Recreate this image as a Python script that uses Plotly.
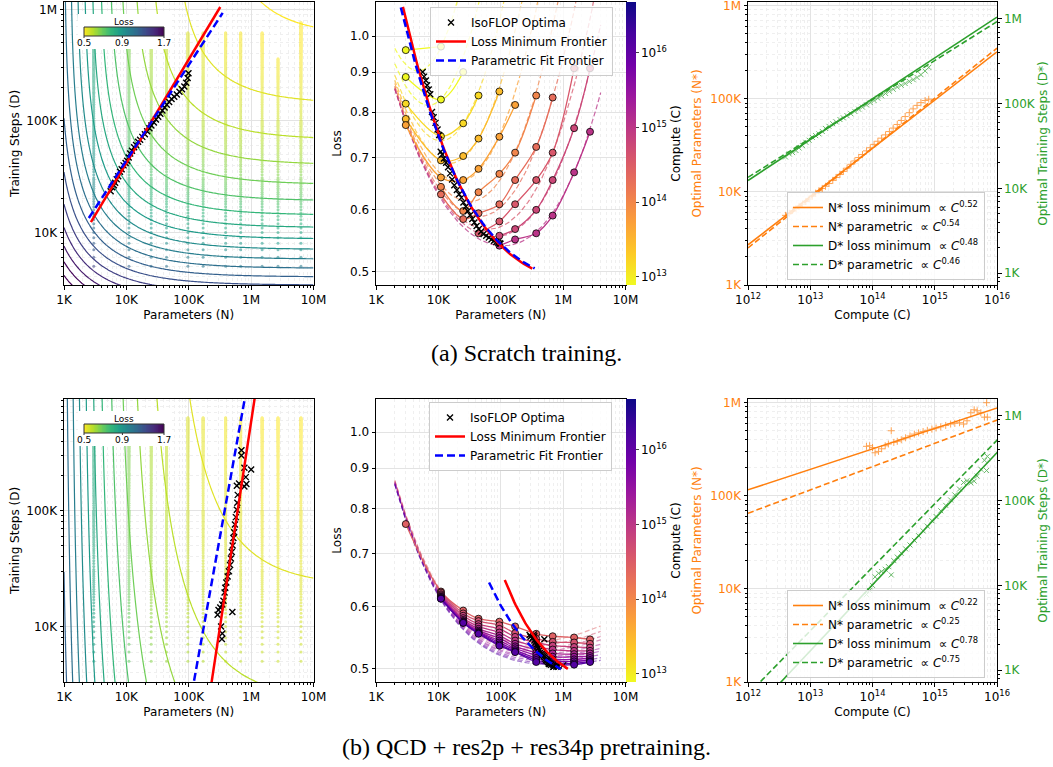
import numpy as np
import plotly.graph_objects as go
from plotly.colors import sequential

W, H = 1053, 767
FONT = "DejaVu Sans"
ORANGE = "#ff7f0e"
GREEN = "#2ca02c"

# ---------------- fitted parametric loss  L = E + A/N^alpha + B/D^beta ----------------
FIT_SCRATCH = {"E": 0.47, "A": 31.5, "alpha": 0.58, "B": 181.0, "beta": 0.68}
FIT_PRETRAIN = {"E": 0.465, "A": 42.7, "alpha": 0.62, "B": 0.49, "beta": 0.207}
K_COMPUTE = 3.0e4  # C = k * N * D

# ---------------- training runs (left panels) ----------------
MODEL_N = [3.0e3, 1.1e4, 2.5e4, 4.4e4, 9.7e4, 1.7e5, 3.9e5, 6.8e5, 1.5e6, 2.7e6, 6.3e6]
MAX_STEPS_SCRATCH = [6.2e5, 6.2e5, 6.2e5, 6.2e5, 6.2e5, 6.2e5, 6.2e5, 6.2e5, 6.2e5, 3.65e5, 7.65e5]
MAX_STEPS_PRETRAIN = [6.4e5, 6.4e5, 6.4e5, 6.4e5, 6.4e5, 6.4e5, 6.4e5, 6.4e5, 6.4e5, 6.4e5, 6.4e5]
CKPT_FIRST = 5000
CKPT_SCHEDULE = [(30000, 1000), (100000, 2000), (1000000, 5000)]  # (up to step, every)

# ---------------- IsoFLOP profiles (middle panels) ----------------
ISO_SCRATCH_LOGC = [12.5, 12.81, 13.18, 13.45, 13.7, 14.02, 14.3, 14.58, 14.77, 15.03]
ISO_SCRATCH_N = [
    [3e3, 1.1e4],
    [3e3, 1.1e4, 2.5e4],
    [3e3, 1.1e4, 2.5e4, 4.4e4],
    [3e3, 1.1e4, 2.5e4, 4.4e4, 9.5e4],
    [3e3, 1.1e4, 2.5e4, 4.4e4, 9.5e4, 1.7e5],
    [1.1e4, 2.5e4, 4.4e4, 9.5e4, 1.7e5, 3.7e5],
    [1.1e4, 2.5e4, 4.4e4, 9.5e4, 1.7e5, 3.7e5, 6.8e5],
    [4.4e4, 9.5e4, 1.7e5, 3.7e5, 6.8e5, 1.5e6],
    [9.5e4, 1.7e5, 3.7e5, 6.8e5, 1.5e6, 2.7e6],
    [9.5e4, 1.7e5, 3.7e5, 6.8e5, 1.5e6, 2.7e6],
]
ISO_SCRATCH_L = [
    [0.96, 0.97],
    [0.887, 0.83, 0.90],
    [0.82, 0.745, 0.774, 0.84],
    [0.784, 0.694, 0.703, 0.74, 0.85],
    [0.77, 0.66, 0.655, 0.677, 0.744, 0.817],
    [0.642, 0.598, 0.632, 0.667, 0.71, 0.84],
    [0.628, 0.584, 0.594, 0.61, 0.655, 0.722, 0.835],
    [0.56, 0.58, 0.61, 0.655, 0.71, 0.91],
    [0.556, 0.567, 0.60, 0.655, 0.763, 0.91],
    [0.54, 0.55, 0.56, 0.59, 0.67, 0.755],
]

ISO_PRE_LOGC = [14.45, 14.65, 14.85, 15.0, 15.2, 15.4, 15.55, 15.75, 15.95, 16.13]
ISO_PRE_N_FIRST = [3e3, 1.1e4, 2.5e4, 4.4e4, 9.5e4, 1.7e5, 3.7e5, 6.8e5, 1.5e6, 2.7e6]
ISO_PRE_N_REST = [1.1e4, 2.5e4, 4.4e4, 9.5e4, 1.7e5, 3.7e5, 6.8e5, 1.5e6, 2.7e6]
ISO_PRE_L = [
    [0.764, 0.627, 0.593, 0.579, 0.574, 0.566, 0.554, 0.550, 0.548, 0.545],
    [0.625, 0.588, 0.575, 0.568, 0.555, 0.546, 0.541, 0.540, 0.538],
    [0.622, 0.584, 0.570, 0.562, 0.549, 0.540, 0.535, 0.533, 0.532],
    [0.620, 0.580, 0.566, 0.556, 0.543, 0.534, 0.529, 0.527, 0.527],
    [0.618, 0.577, 0.562, 0.551, 0.538, 0.529, 0.523, 0.522, 0.523],
    [0.617, 0.575, 0.559, 0.547, 0.534, 0.524, 0.518, 0.518, 0.519],
    [0.616, 0.574, 0.557, 0.543, 0.531, 0.520, 0.514, 0.514, 0.516],
    [0.615, 0.573, 0.556, 0.540, 0.528, 0.516, 0.511, 0.511, 0.513],
    [0.614, 0.572, 0.555, 0.537, 0.526, 0.513, 0.508, 0.508, 0.511],
    [0.614, 0.572, 0.554, 0.535, 0.525, 0.510, 0.506, 0.506, 0.510],
]

# ---------------- IsoFLOP optima ----------------
OPT_SCRATCH_C = [4.0e12, 4.6e12, 5.2e12, 5.9e12, 6.6e12, 7.5e12, 8.5e12, 9.6e12, 1.08e13, 1.22e13,
                 1.38e13, 1.56e13, 1.76e13, 2.0e13, 2.3e13, 2.6e13, 3.0e13, 3.4e13, 3.9e13, 4.5e13,
                 5.2e13, 6.0e13, 6.9e13, 8.0e13, 9.2e13, 1.06e14, 1.22e14, 1.4e14, 1.62e14, 1.87e14,
                 2.15e14, 2.5e14, 2.9e14, 3.35e14, 3.9e14, 4.5e14, 5.2e14, 6.0e14, 7.0e14, 8.0e14]
OPT_SCRATCH_N = [5.6e3, 5.9e3, 6.3e3, 6.6e3, 7.0e3, 7.4e3, 7.9e3, 8.4e3, 9.0e3, 9.7e3,
                 10.3e3, 10.9e3, 11.5e3, 12.3e3, 13.3e3, 14.3e3, 15.4e3, 16.6e3, 18.0e3, 19.8e3,
                 21.5e3, 23.4e3, 25.2e3, 27.6e3, 29.8e3, 32.4e3, 35.0e3, 37.8e3, 41.0e3, 44.5e3,
                 48.5e3, 53e3, 58.5e3, 64.5e3, 71e3, 78e3, 85e3, 91e3, 96e3, 99e3]
OPT_SCRATCH_D = [23.5e3, 25.5e3, 26.5e3, 28e3, 30e3, 32e3, 35e3, 37e3, 40e3, 42e3,
                 44e3, 47e3, 51e3, 54e3, 58e3, 61e3, 65e3, 68e3, 72e3, 76e3,
                 81e3, 86e3, 91e3, 97e3, 103e3, 109e3, 116e3, 124e3, 132e3, 140e3,
                 148e3, 157e3, 165e3, 173e3, 183e3, 192e3, 204e3, 220e3, 243e3, 268e3]
OPT_SCRATCH_L = [0.90, 0.888, 0.878, 0.866, 0.855, 0.843, 0.80, 0.788, 0.775, 0.76,
                 0.748, 0.712, 0.706, 0.698, 0.689, 0.68, 0.668, 0.656, 0.645, 0.636,
                 0.628, 0.622, 0.613, 0.606, 0.598, 0.591, 0.584, 0.578, 0.572, 0.567,
                 0.563, 0.559, 0.556, 0.553, 0.55, 0.548, 0.546, 0.545, 0.544, 0.543]

OPT_PRE_C = [8.0e13, 9.0e13, 1.0e14, 1.1e14, 1.25e14, 1.4e14, 1.6e14, 1.8e14, 2.0e14, 2.2e14,
             2.5e14, 2.9e14, 3.4e14, 4.0e14, 4.7e14, 5.5e14, 6.5e14, 7.6e14, 9.0e14, 1.05e15,
             1.25e15, 1.5e15, 1.8e15, 2.1e15, 2.5e15, 2.9e15, 3.3e15, 3.8e15, 4.3e15, 4.8e15,
             5.5e15, 6.3e15, 7.0e15, 6.8e15]
OPT_PRE_N = [340e3, 345e3, 330e3, 290e3, 300e3, 320e3, 345e3, 360e3, 500e3, 375e3,
             385e3, 400e3, 420e3, 440e3, 460e3, 475e3, 490e3, 505e3, 520e3, 535e3,
             550e3, 570e3, 590e3, 600e3, 610e3, 590e3, 640e3, 780e3, 840e3, 820e3,
             780e3, 700e3, 700e3, 1.0e6]
OPT_PRE_D = [7.8e3, 8.7e3, 10e3, 12.6e3, 13.9e3, 14.6e3, 15.5e3, 16.7e3, 13.3e3, 19.6e3,
             21.6e3, 24e3, 27e3, 30e3, 34e3, 38.6e3, 44e3, 50e3, 58e3, 65e3,
             76e3, 88e3, 102e3, 117e3, 137e3, 164e3, 172e3, 162e3, 170e3, 195e3,
             235e3, 300e3, 333e3, 227e3]
OPT_PRE_L = [0.553, 0.55, 0.548, 0.552, 0.549, 0.546, 0.543, 0.54, 0.545, 0.537,
             0.534, 0.531, 0.528, 0.525, 0.523, 0.521, 0.519, 0.517, 0.515, 0.513,
             0.512, 0.51, 0.509, 0.508, 0.507, 0.507, 0.506, 0.505, 0.504, 0.504,
             0.503, 0.503, 0.503, 0.505]

# ---------------- compute-optimal frontiers (power-law end points) ----------------
FRONT_SCRATCH_C = [1e12, 1e16]
FRONT_SCRATCH_NMIN = [2.7e3, 3.2e5]
FRONT_SCRATCH_DMIN = [1.24e4, 1.05e6]
FRONT_SCRATCH_NPAR = [2.5e3, 3.5e5]
FRONT_SCRATCH_DPAR = [1.35e4, 9.3e5]
FRONT_PRE_C = [1e12, 4e16]
FRONT_PRE_NMIN = [1.16e5, 1.19e6]
FRONT_PRE_DMIN = [2.8e2, 1.09e6]
FRONT_PRE_NPAR = [6.5e4, 9.2e5]
FRONT_PRE_DPAR = [5.18e2, 1.46e6]
EXPONENTS_SCRATCH = ["0.52", "0.54", "0.48", "0.46"]
EXPONENTS_PRE = ["0.22", "0.25", "0.78", "0.75"]

LOSS_TICKS = [0.5, 0.9, 1.7]
LOSS_CMIN, LOSS_CMAX = 0.5, 1.7
C_CMIN, C_CMAX = 12.89, 16.68


def loss(fit, n, d):
    return fit["E"] + fit["A"] * np.power(n, -fit["alpha"]) + fit["B"] * np.power(d, -fit["beta"])


def along(c_end, v_end, c):
    return 10 ** np.interp(np.log10(c), np.log10(c_end), np.log10(v_end))


def checkpoints(dmax):
    out, s = [], float(CKPT_FIRST)
    for lim, step in CKPT_SCHEDULE:
        while s <= min(lim, dmax):
            out.append(s)
            s += step
    return np.array(out)


def plasma_r(t):
    t = min(max(t, 0.0), 1.0)
    cols = sequential.Plasma_r
    rgb = np.array([[int(h[i:i + 2], 16) for i in (1, 3, 5)] for h in cols], float)
    pos = np.linspace(0, 1, len(cols))
    r = [np.interp(t, pos, rgb[:, k]) for k in range(3)]
    return "rgb(%d,%d,%d)" % tuple(int(round(v)) for v in r)


LNMIN, LNMAX = float(np.log(LOSS_CMIN)), float(np.log(LOSS_CMAX))

fig = go.Figure()

rows = [
    dict(fit=FIT_SCRATCH, maxs=MAX_STEPS_SCRATCH, ax=("x", "y"), axm=("x2", "y2"), axr=("x3", "y3", "y4"),
         axi=("x9", "y9"), cam="coloraxis3", leg_m="legend", leg_r="legend3", dash_op=0.75,
         iso_c=ISO_SCRATCH_LOGC, iso_n=ISO_SCRATCH_N, iso_l=ISO_SCRATCH_L,
         oc=OPT_SCRATCH_C, on=OPT_SCRATCH_N, od=OPT_SCRATCH_D, ol=OPT_SCRATCH_L,
         fc=FRONT_SCRATCH_C, fnm=FRONT_SCRATCH_NMIN, fdm=FRONT_SCRATCH_DMIN,
         fnp=FRONT_SCRATCH_NPAR, fdp=FRONT_SCRATCH_DPAR, ex=EXPONENTS_SCRATCH),
    dict(fit=FIT_PRETRAIN, maxs=MAX_STEPS_PRETRAIN, ax=("x5", "y5"), axm=("x6", "y6"), axr=("x7", "y7", "y8"),
         axi=("x10", "y10"), cam="coloraxis4", leg_m="legend2", leg_r="legend4", dash_op=0.5,
         iso_c=ISO_PRE_LOGC,
         iso_n=[ISO_PRE_N_FIRST] + [ISO_PRE_N_REST] * (len(ISO_PRE_LOGC) - 1),
         iso_l=ISO_PRE_L,
         oc=OPT_PRE_C, on=OPT_PRE_N, od=OPT_PRE_D, ol=OPT_PRE_L,
         fc=FRONT_PRE_C, fnm=FRONT_PRE_NMIN, fdm=FRONT_PRE_DMIN,
         fnp=FRONT_PRE_NPAR, fdp=FRONT_PRE_DPAR, ex=EXPONENTS_PRE),
]

for R in rows:
    fit = R["fit"]
    xa, ya = R["ax"]
    # ---- left: loss contours ----
    xg = np.logspace(3, 7, 120)
    yg = np.logspace(3.4, 6.3, 120)
    XX, YY = np.meshgrid(xg, yg)
    Z = np.log(loss(fit, XX, YY))
    fig.add_trace(go.Contour(x=xg.tolist(), y=yg.tolist(), z=Z.tolist(), xaxis=xa, yaxis=ya,
                             colorscale="Viridis_r", zmin=LNMIN, zmax=LNMAX, zauto=False, showscale=False,
                             contours=dict(coloring="lines", start=float(np.log(0.492)), end=float(np.log(2.4)),
                                           size=0.068),
                             line=dict(width=1.2), hoverinfo="skip", showlegend=False))
    bx, by, bc = [], [], []
    for n, dmax in zip(MODEL_N, R["maxs"]):
        d = checkpoints(dmax)
        bx += [n] * len(d)
        by += d.tolist()
        bc += np.log(loss(fit, n, d)).tolist()
    fig.add_trace(go.Scatter(x=bx, y=by, mode="markers", xaxis=xa, yaxis=ya, opacity=0.55,
                             marker=dict(size=3, color=bc, colorscale="Viridis_r", cmin=LNMIN, cmax=LNMAX,
                                         showscale=False),
                             hoverinfo="skip", showlegend=False))
    fig.add_trace(go.Scatter(x=R["on"], y=R["od"], mode="markers", xaxis=xa, yaxis=ya,
                             marker=dict(symbol="x-thin", size=6, line=dict(width=1.4, color="black")),
                             showlegend=False))
    fig.add_trace(go.Scatter(x=R["fnm"], y=R["fdm"], mode="lines", xaxis=xa, yaxis=ya,
                             line=dict(color="red", width=2.5), showlegend=False))
    fig.add_trace(go.Scatter(x=R["fnp"], y=R["fdp"], mode="lines", xaxis=xa, yaxis=ya,
                             line=dict(color="blue", width=2.5, dash="8px,4px"), showlegend=False))

    # ---- inset loss colour bar ----
    xi, yi = R["axi"]
    edges = np.linspace(LNMIN, LNMAX, 101)
    centers = (edges[:-1] + edges[1:]) / 2
    fig.add_trace(go.Heatmap(x=edges.tolist(), y=[36, 27], z=[centers.tolist()], xaxis=xi, yaxis=yi,
                             colorscale="Viridis_r", zmin=LNMIN, zmax=LNMAX, showscale=False,
                             hoverinfo="skip"))

    # ---- middle: IsoFLOP profiles ----
    xm, ym = R["axm"]
    nline = np.logspace(np.log10(2e3), np.log10(4e6), 80)
    for lc in R["iso_c"]:
        col = plasma_r((lc - C_CMIN) / (C_CMAX - C_CMIN))
        c = 10 ** lc
        fig.add_trace(go.Scatter(x=nline.tolist(), y=loss(fit, nline, c / (K_COMPUTE * nline)).tolist(),
                                 mode="lines", xaxis=xm, yaxis=ym, opacity=R["dash_op"],
                                 line=dict(color=col, width=1.2, dash="5px,2.5px"), showlegend=False,
                                 hoverinfo="skip"))
    for lc, ns, ls in zip(R["iso_c"], R["iso_n"], R["iso_l"]):
        col = plasma_r((lc - C_CMIN) / (C_CMAX - C_CMIN))
        fig.add_trace(go.Scatter(x=ns, y=ls, mode="lines+markers", xaxis=xm, yaxis=ym,
                                 line=dict(color=col, width=1.3, shape="spline"),
                                 marker=dict(size=7, color=[lc] * len(ns), coloraxis=R["cam"],
                                             line=dict(color="black", width=0.8)),
                                 showlegend=False))
    fig.add_trace(go.Scatter(x=R["on"], y=R["ol"], mode="markers", xaxis=xm, yaxis=ym, name="IsoFLOP Optima",
                             marker=dict(symbol="x-thin", size=6, color="black", line=dict(width=1.4, color="black")),
                             legend=R["leg_m"]))
    cs = np.logspace(np.log10(R["fc"][0]), np.log10(R["fc"][1]), 60)
    n_m, d_m = along(R["fc"], R["fnm"], cs), along(R["fc"], R["fdm"], cs)
    n_p, d_p = along(R["fc"], R["fnp"], cs), along(R["fc"], R["fdp"], cs)
    fig.add_trace(go.Scatter(x=n_m.tolist(), y=loss(fit, n_m, d_m).tolist(), mode="lines", xaxis=xm, yaxis=ym,
                             name="Loss Minimum Frontier", line=dict(color="red", width=2.5), legend=R["leg_m"]))
    fig.add_trace(go.Scatter(x=n_p.tolist(), y=loss(fit, n_p, d_p).tolist(), mode="lines", xaxis=xm, yaxis=ym,
                             name="Parametric Fit Frontier", line=dict(color="blue", width=2.5, dash="8px,4px"),
                             legend=R["leg_m"]))

    # ---- right: scaling laws ----
    xr, yr, yr2 = R["axr"]
    ex = R["ex"]
    fig.add_trace(go.Scatter(x=R["oc"], y=R["on"], mode="markers", xaxis=xr, yaxis=yr, opacity=0.7,
                             marker=dict(symbol="cross-thin", size=5, line=dict(width=1, color=ORANGE)),
                             showlegend=False))
    fig.add_trace(go.Scatter(x=R["oc"], y=R["od"], mode="markers", xaxis=xr, yaxis=yr2, opacity=0.7,
                             marker=dict(symbol="x-thin", size=5, line=dict(width=1, color=GREEN)),
                             showlegend=False))
    fig.add_trace(go.Scatter(x=R["fc"], y=R["fnm"], mode="lines", xaxis=xr, yaxis=yr,
                             name="N* loss minimum  ∝ <i>C</i><sup>%s</sup>" % ex[0],
                             line=dict(color=ORANGE, width=1.6), legend=R["leg_r"]))
    fig.add_trace(go.Scatter(x=R["fc"], y=R["fnp"], mode="lines", xaxis=xr, yaxis=yr,
                             name="N* parametric  ∝ <i>C</i><sup>%s</sup>" % ex[1],
                             line=dict(color=ORANGE, width=1.6, dash="6px,3px"), legend=R["leg_r"]))
    fig.add_trace(go.Scatter(x=R["fc"], y=R["fdm"], mode="lines", xaxis=xr, yaxis=yr2,
                             name="D* loss minimum  ∝ <i>C</i><sup>%s</sup>" % ex[2],
                             line=dict(color=GREEN, width=1.6), legend=R["leg_r"]))
    fig.add_trace(go.Scatter(x=R["fc"], y=R["fdp"], mode="lines", xaxis=xr, yaxis=yr2,
                             name="D* parametric  ∝ <i>C</i><sup>%s</sup>" % ex[3],
                             line=dict(color=GREEN, width=1.6, dash="6px,3px"), legend=R["leg_r"]))

# ---------------- layout ----------------
def px_x(a, b):
    return [a / W, b / W]


def px_y(top, bot):
    return [1 - bot / H, 1 - top / H]


def minor_vals(e0, e1):
    return [m * 10.0 ** e for e in range(e0, e1) for m in range(2, 10)]


def minor(e0, e1, grid=True):
    return dict(tickvals=minor_vals(e0, e1), ticks="outside", ticklen=2, tickcolor="black",
                showgrid=grid, gridcolor="#efefef", griddash="dot")


BASE = dict(showline=True, linecolor="black", linewidth=1, mirror=True, ticks="outside", ticklen=3.5,
            tickcolor="black", showgrid=True, gridcolor="#e3e3e3", zeroline=False, automargin=False,
            ticklabeloverflow="allow", tickfont=dict(size=12, color="black"))


def ax(**kw):
    d = dict(BASE)
    d.update(kw)
    return d


N_TV = [1e3, 1e4, 1e5, 1e6, 1e7]
N_TT = ["1K", "10K", "100K", "1M", "10M"]
C_TV = [1e12, 1e13, 1e14, 1e15, 1e16]
C_TT = ["10<sup>12</sup>", "10<sup>13</sup>", "10<sup>14</sup>", "10<sup>15</sup>", "10<sup>16</sup>"]
S_TV = [1e3, 1e4, 1e5, 1e6]
S_TT = ["1K", "10K", "100K", "1M"]
L_TV = [0.5, 0.6, 0.7, 0.8, 0.9, 1.0]
L_TT = ["0.5", "0.6", "0.7", "0.8", "0.9", "1.0"]

XL, XM, XR = px_x(64, 313.5), px_x(376, 625.5), px_x(748, 997)
ROWS_Y = [px_y(2, 285), px_y(399, 682)]
LEFT_YR = [[3.53, 6.066], [3.52, 5.965]]
MID_YR = [[float(np.log10(0.481)), float(np.log10(1.106))], [float(np.log10(0.481)), float(np.log10(1.102))]]

layout = dict(width=W, height=H, margin=dict(l=0, r=0, t=0, b=0), paper_bgcolor="white",
              plot_bgcolor="white", font=dict(family=FONT, size=12, color="black"), template="none")

shapes, annotations = [], []
ids = [("", "", "2", "2", "3", "3", "4", "9"), ("5", "5", "6", "6", "7", "7", "8", "10")]
inset_top = [0, 397]
for r, (xl, yl, xm, ym, xr, yr, yr2, ii) in enumerate(ids):
    yd = ROWS_Y[r]
    layout["xaxis" + xl] = ax(domain=XL, type="log", range=[3, 7], anchor="y" + yl, tickvals=N_TV, ticktext=N_TT,
                              minor=minor(3, 7),
                              title=dict(text="Parameters (N)", standoff=4, font=dict(size=12)))
    layout["yaxis" + yl] = ax(domain=yd, type="log", range=LEFT_YR[r], anchor="x" + xl, tickvals=S_TV, ticktext=S_TT,
                              minor=minor(3, 7),
                              title=dict(text="Training Steps (D)", standoff=4, font=dict(size=12)))
    layout["xaxis" + xm] = ax(domain=XM, type="log", range=[3, 7], anchor="y" + ym, tickvals=N_TV, ticktext=N_TT,
                              minor=minor(3, 7),
                              title=dict(text="Parameters (N)", standoff=4, font=dict(size=12)))
    layout["yaxis" + ym] = ax(domain=yd, type="log", range=MID_YR[r], anchor="x" + xm, tickvals=L_TV, ticktext=L_TT,
                              title=dict(text="Loss", standoff=5, font=dict(size=12)))
    layout["xaxis" + xr] = ax(domain=XR, type="log", range=[12, 16], anchor="y" + yr, tickvals=C_TV, ticktext=C_TT,
                              minor=minor(12, 16),
                              title=dict(text="Compute (C)", standoff=4, font=dict(size=12)))
    layout["yaxis" + yr] = ax(domain=yd, type="log", range=[3, 6.04], anchor="x" + xr, tickvals=S_TV, ticktext=S_TT,
                              minor=minor(3, 6), tickfont=dict(size=12, color=ORANGE),
                              title=dict(text="Optimal Parameters (N*)", standoff=6, font=dict(size=12, color=ORANGE)))
    layout["yaxis" + yr2] = dict(domain=yd, type="log", range=[2.86, 6.2], anchor="x" + xr, overlaying="y" + yr,
                                 side="right", showline=False, showgrid=False, zeroline=False, ticks="outside",
                                 ticklen=3.5, tickcolor="black", tickvals=S_TV, ticktext=S_TT, automargin=False,
                                 ticklabeloverflow="allow", minor=minor(2, 6, grid=False),
                                 tickfont=dict(size=12, color=GREEN),
                                 title=dict(text="Optimal Training Steps (D*)", standoff=2,
                                            font=dict(size=12, color=GREEN)))
    # inset colour-bar axes: a white box from x 78..172 px, y offset 14..49 px (coordinates in px)
    t0 = inset_top[r]
    sc = (LNMAX - LNMIN) / 80.0
    layout["xaxis" + ii] = dict(domain=px_x(78, 172), range=[LNMIN - 6 * sc, LNMIN + 88 * sc], anchor="y" + ii,
                                visible=False, fixedrange=True)
    layout["yaxis" + ii] = dict(domain=px_y(t0 + 14, t0 + 49), range=[49, 14], anchor="x" + ii,
                                visible=False, fixedrange=True)
    shapes.append(dict(type="rect", xref="x" + ii, yref="y" + ii, x0=LNMIN, x1=LNMAX, y0=27, y1=36,
                       line=dict(color="#333", width=1), layer="above"))
    annotations.append(dict(text="Loss", xref="x" + ii, yref="y" + ii, x=(LNMIN + LNMAX) / 2, y=22,
                            showarrow=False, font=dict(size=9)))
    for v in LOSS_TICKS:
        lv = float(np.log(v))
        shapes.append(dict(type="line", xref="x" + ii, yref="y" + ii, x0=lv, x1=lv, y0=36, y1=38,
                           line=dict(color="#333", width=1), layer="above"))
        annotations.append(dict(text=("%.1f" % v), xref="x" + ii, yref="y" + ii, x=lv, y=43,
                                showarrow=False, font=dict(size=9)))

mid_c = [143.5, 540.5]
for r, name in enumerate(["coloraxis3", "coloraxis4"]):
    layout[name] = dict(colorscale="Plasma_r", cmin=C_CMIN, cmax=C_CMAX,
                        colorbar=dict(x=626 / W, xanchor="left", y=1 - mid_c[r] / H, yanchor="middle",
                                      len=283 / H, lenmode="fraction", thickness=10, xpad=0, ypad=0,
                                      outlinewidth=0, tickvals=[13, 14, 15, 16],
                                      ticktext=["10<sup>13</sup>", "10<sup>14</sup>", "10<sup>15</sup>",
                                                "10<sup>16</sup>"],
                                      ticks="outside", ticklen=3, tickfont=dict(size=12),
                                      title=dict(text="Compute (C)", side="right", font=dict(size=12))))

LEG = dict(bgcolor="rgba(255,255,255,0.8)", bordercolor="#cccccc", borderwidth=1, font=dict(size=12),
           xanchor="left", yanchor="top")
layout["legend"] = dict(LEG, x=430 / W, y=1 - 7 / H)
layout["legend2"] = dict(LEG, x=429 / W, y=1 - 402 / H)
layout["legend3"] = dict(LEG, x=787 / W, y=1 - 192 / H)
layout["legend4"] = dict(LEG, x=787 / W, y=1 - 590 / H)

annotations += [
    dict(text="(a) Scratch training.", x=0.5, y=1 - 353 / H, xref="paper", yref="paper", showarrow=False,
         yanchor="middle", font=dict(family="Liberation Serif", size=24, color="black")),
    dict(text="(b) QCD + res2p + res34p pretraining.", x=0.5, y=1 - 747 / H, xref="paper", yref="paper",
         showarrow=False, yanchor="middle", font=dict(family="Liberation Serif", size=24, color="black")),
]
layout["annotations"] = annotations
layout["shapes"] = shapes

fig.update_layout(**layout)
fig.write_html("out.html", config={"displayModeBar": False},
               post_script="document.body.style.margin='0px';")
